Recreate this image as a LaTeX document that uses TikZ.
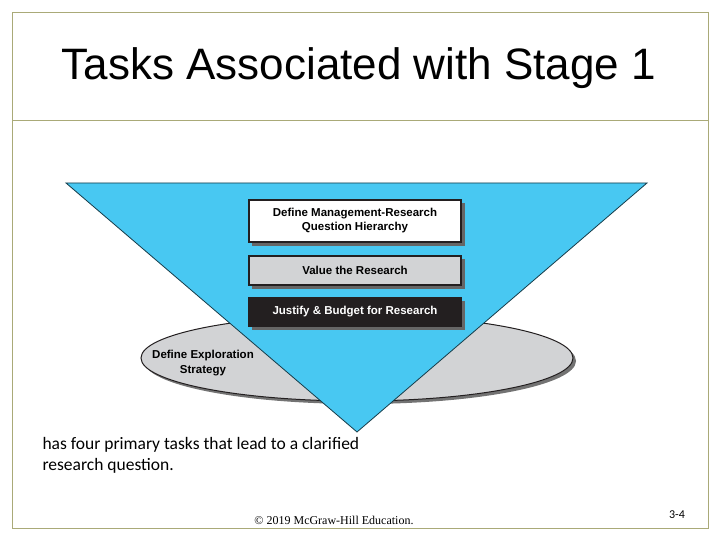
\documentclass[tikz,border=0pt]{standalone}
\usepackage{fontspec}
\setmainfont{Liberation Sans}
\newfontfamily\bodyf{Carlito}
\newfontfamily\timesf{Liberation Serif}
\definecolor{frame}{RGB}{170,170,120}
\definecolor{sky}{RGB}{72,200,242}
\definecolor{lgray}{RGB}{210,211,213}
\definecolor{dk}{RGB}{35,31,32}
\begin{document}
\begin{tikzpicture}[x=1pt,y=-1pt,
  box/.style={draw=dk,line width=1.2pt,minimum width=212pt,align=center,font=\bfseries\fontsize{11.5}{14}\selectfont,inner sep=0pt},
  shadow/.style={fill=black!60}]
\useasboundingbox (0,0) rectangle (720,540);
\fill[white] (0,0) rectangle (720,540);
\draw[frame,line width=0.8pt] (12,12) rectangle (708,528);
\draw[frame,line width=0.8pt] (12,120) -- (708,120);
\node (title) at (359,68) {\fontsize{44}{50}\selectfont Tasks Associated with Stage 1};
% ellipse
\fill[black!55] (360,361) ellipse [x radius=216,y radius=43];
\filldraw[fill=lgray,draw=dk,line width=1pt] (357,358) ellipse [x radius=216,y radius=43];
\node[font=\bfseries\fontsize{11.5}{15}\selectfont,align=center] (expl) at (203,363) {Define Exploration\\Strategy};
% triangle
\filldraw[fill=sky,draw=black!70!sky,line width=0.8pt] (66,183) -- (647,183) -- (357,432) -- cycle;
% boxes
\fill[shadow] (252,203) rectangle (465,246);
\node[box,fill=white,minimum height=42pt] (b1) at (355,221) {Define Management-Research\\Question Hierarchy};
\fill[shadow] (252,259) rectangle (465,289);
\node[box,fill=lgray,minimum height=29pt] (b2) at (355,270.5) {Value the Research};
\fill[shadow] (252,301) rectangle (465,330);
\node[box,fill=dk,text=white,minimum height=28pt] (b3) at (355,312) {Justify \& Budget for Research};
\node[anchor=west,align=left,font=\bodyf\fontsize{17.5}{21}\selectfont] (body) at (39,455) {has four primary tasks that lead to a clarified\\research question.};
\node[font=\timesf\fontsize{12}{14}\selectfont] (copy) at (334,520) {© 2019 McGraw-Hill Education.};
\node[font=\bodyf\fontsize{12}{14}\selectfont] (page) at (677,515) {3-4};
\end{tikzpicture}
\end{document}
